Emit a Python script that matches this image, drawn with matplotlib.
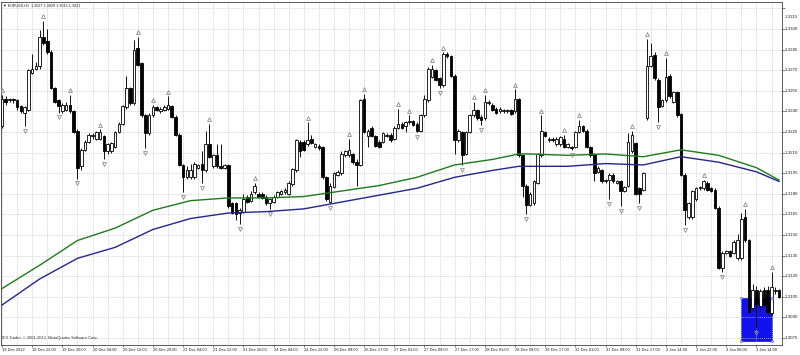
import numpy as np
import matplotlib
matplotlib.use("Agg")
import matplotlib.pyplot as plt
import matplotlib.transforms as mtransforms
from matplotlib.patches import Rectangle

# ---------------- data (EURUSD H1) ----------------
opens = [1.3229,1.3249,1.3248,1.3249,1.3248,1.3244,1.3239,1.3241,1.3268,1.3271,
         1.3273,1.3294,1.3291,1.3283,1.3257,1.3248,1.3240,1.3241,1.3245,1.3240,
         1.3226,1.3200,1.3212,1.3218,1.3222,1.3220,1.3220,1.3222,1.3211,1.3211,
         1.3214,1.3225,1.3231,1.3243,1.3257,1.3246,1.3286,1.3275,1.3237,1.3224,
         1.3237,1.3243,1.3240,1.3241,1.3242,1.3244,1.3236,1.3223,1.3201,1.3192,
         1.3192,1.3192,1.3199,1.3202,1.3197,1.3216,1.3200,1.3208,1.3200,1.3199,
         1.3201,1.3173,1.3173,1.3166,1.3167,1.3178,1.3175,1.3181,1.3180,1.3180,
         1.3178,1.3173,1.3174,1.3178,1.3180,1.3181,1.3180,1.3187,1.3197,1.3218,
         1.3218,1.3216,1.3220,1.3214,1.3215,1.3214,1.3192,1.3174,1.3185,1.3194,
         1.3195,1.3208,1.3208,1.3209,1.3203,1.3201,1.3249,1.3222,1.3228,1.3222,
         1.3218,1.3218,1.3222,1.3223,1.3220,1.3228,1.3231,1.3229,1.3232,1.3233,
         1.3231,1.3226,1.3237,1.3248,1.3265,1.3270,1.3264,1.3259,1.3282,1.3280,
         1.3266,1.3219,1.3225,1.3209,1.3225,1.3237,1.3241,1.3236,1.3235,1.3246,
         1.3245,1.3242,1.3240,1.3240,1.3240,1.3241,1.3240,1.3249,1.3208,1.3186,
         1.3172,1.3173,1.3188,1.3208,1.3225,1.3219,1.3220,1.3216,1.3216,1.3220,
         1.3214,1.3214,1.3214,1.3225,1.3229,1.3226,1.3214,1.3209,1.3196,1.3197,
         1.3189,1.3190,1.3194,1.3188,1.3189,1.3182,1.3186,1.3211,1.3217,1.3184,
         1.3183,1.3235,1.3273,1.3281,1.3263,1.3244,1.3248,1.3266,1.3247,1.3254,
         1.3238,1.3194,1.3163,1.3163,1.3176,1.3184,1.3184,1.3188,1.3184,1.3183,
         1.3170,1.3126,1.3137,1.3138,1.3137,1.3133,1.3133,1.3163,1.3146,1.3097,
         1.3110,1.3098,1.3110,1.3110,1.3093,1.3109,1.3110]
highs = [1.3252,1.3251,1.3250,1.3250,1.3249,1.3245,1.3244,1.3271,1.3282,1.3276,
         1.3299,1.3306,1.3300,1.3285,1.3258,1.3249,1.3246,1.3247,1.3252,1.3241,
         1.3227,1.3213,1.3219,1.3224,1.3224,1.3226,1.3227,1.3223,1.3217,1.3218,
         1.3226,1.3232,1.3245,1.3266,1.3258,1.3292,1.3294,1.3276,1.3238,1.3239,
         1.3245,1.3244,1.3243,1.3245,1.3251,1.3245,1.3237,1.3224,1.3202,1.3200,
         1.3202,1.3203,1.3202,1.3211,1.3226,1.3231,1.3209,1.3216,1.3216,1.3202,
         1.3202,1.3174,1.3174,1.3170,1.3180,1.3179,1.3182,1.3188,1.3181,1.3181,
         1.3179,1.3177,1.3179,1.3182,1.3183,1.3184,1.3189,1.3199,1.3220,1.3219,
         1.3219,1.3232,1.3223,1.3217,1.3216,1.3215,1.3193,1.3188,1.3196,1.3197,
         1.3211,1.3212,1.3220,1.3210,1.3205,1.3249,1.3253,1.3227,1.3229,1.3223,
         1.3219,1.3225,1.3224,1.3224,1.3229,1.3242,1.3232,1.3233,1.3237,1.3234,
         1.3232,1.3238,1.3252,1.3272,1.3274,1.3271,1.3265,1.3283,1.3283,1.3281,
         1.3267,1.3227,1.3226,1.3226,1.3238,1.3247,1.3242,1.3237,1.3252,1.3248,
         1.3246,1.3243,1.3243,1.3242,1.3242,1.3242,1.3256,1.3250,1.3209,1.3187,
         1.3181,1.3190,1.3210,1.3237,1.3226,1.3221,1.3221,1.3221,1.3222,1.3223,
         1.3217,1.3215,1.3226,1.3234,1.3230,1.3227,1.3215,1.3210,1.3200,1.3198,
         1.3191,1.3195,1.3195,1.3190,1.3190,1.3186,1.3224,1.3226,1.3218,1.3185,
         1.3196,1.3293,1.3290,1.3283,1.3264,1.3249,1.3279,1.3267,1.3255,1.3255,
         1.3239,1.3195,1.3174,1.3183,1.3185,1.3186,1.3190,1.3189,1.3185,1.3184,
         1.3171,1.3138,1.3139,1.3139,1.3146,1.3151,1.3166,1.3169,1.3147,1.3114,
         1.3113,1.3111,1.3112,1.3113,1.3123,1.3112,1.3111]
lows = [1.3228,1.3245,1.3247,1.3246,1.3241,1.3239,1.3229,1.3240,1.3267,1.3270,
        1.3271,1.3288,1.3282,1.3256,1.3246,1.3239,1.3239,1.3240,1.3239,1.3224,
        1.3191,1.3197,1.3211,1.3217,1.3220,1.3219,1.3219,1.3205,1.3209,1.3210,
        1.3213,1.3224,1.3230,1.3242,1.3245,1.3245,1.3273,1.3236,1.3213,1.3223,
        1.3236,1.3240,1.3239,1.3240,1.3241,1.3235,1.3222,1.3200,1.3181,1.3191,
        1.3191,1.3191,1.3198,1.3188,1.3196,1.3206,1.3199,1.3199,1.3198,1.3198,
        1.3170,1.3165,1.3161,1.3158,1.3166,1.3173,1.3174,1.3180,1.3177,1.3176,
        1.3172,1.3169,1.3173,1.3177,1.3179,1.3180,1.3179,1.3186,1.3196,1.3207,
        1.3211,1.3215,1.3216,1.3213,1.3212,1.3191,1.3175,1.3173,1.3184,1.3193,
        1.3194,1.3207,1.3207,1.3202,1.3186,1.3200,1.3224,1.3214,1.3221,1.3214,
        1.3213,1.3217,1.3221,1.3218,1.3219,1.3227,1.3227,1.3225,1.3231,1.3229,
        1.3225,1.3225,1.3236,1.3247,1.3264,1.3262,1.3257,1.3258,1.3279,1.3265,
        1.3209,1.3218,1.3201,1.3208,1.3224,1.3236,1.3234,1.3230,1.3234,1.3245,
        1.3240,1.3238,1.3239,1.3239,1.3239,1.3237,1.3239,1.3207,1.3178,1.3165,
        1.3171,1.3172,1.3187,1.3207,1.3221,1.3218,1.3218,1.3215,1.3215,1.3213,
        1.3213,1.3212,1.3213,1.3224,1.3225,1.3213,1.3207,1.3189,1.3195,1.3188,
        1.3188,1.3176,1.3188,1.3187,1.3171,1.3181,1.3185,1.3210,1.3179,1.3173,
        1.3182,1.3234,1.3272,1.3263,1.3232,1.3243,1.3247,1.3250,1.3246,1.3236,
        1.3193,1.3157,1.3162,1.3162,1.3175,1.3183,1.3183,1.3182,1.3181,1.3169,
        1.3125,1.3123,1.3136,1.3134,1.3136,1.3132,1.3132,1.3145,1.3093,1.3095,
        1.3082,1.3095,1.3098,1.3092,1.3092,1.3107,1.3104]
closes = [1.3249,1.3247,1.3249,1.3248,1.3243,1.3240,1.3243,1.3270,1.3271,1.3273,
          1.3294,1.3290,1.3283,1.3257,1.3247,1.3244,1.3245,1.3245,1.3240,1.3225,
          1.3199,1.3212,1.3218,1.3223,1.3223,1.3225,1.3225,1.3211,1.3216,1.3217,
          1.3225,1.3231,1.3244,1.3257,1.3246,1.3285,1.3274,1.3237,1.3224,1.3237,
          1.3243,1.3241,1.3242,1.3243,1.3245,1.3236,1.3223,1.3201,1.3192,1.3197,
          1.3197,1.3202,1.3201,1.3197,1.3216,1.3207,1.3208,1.3200,1.3199,1.3201,
          1.3171,1.3166,1.3165,1.3168,1.3176,1.3174,1.3180,1.3186,1.3178,1.3177,
          1.3173,1.3176,1.3178,1.3181,1.3182,1.3183,1.3188,1.3198,1.3219,1.3211,
          1.3212,1.3219,1.3217,1.3216,1.3213,1.3192,1.3176,1.3186,1.3195,1.3196,
          1.3209,1.3211,1.3212,1.3203,1.3201,1.3248,1.3225,1.3226,1.3222,1.3215,
          1.3214,1.3224,1.3223,1.3219,1.3228,1.3231,1.3228,1.3232,1.3233,1.3230,
          1.3226,1.3237,1.3249,1.3271,1.3271,1.3263,1.3259,1.3282,1.3280,1.3266,
          1.3219,1.3226,1.3208,1.3225,1.3237,1.3241,1.3235,1.3234,1.3247,1.3247,
          1.3241,1.3239,1.3242,1.3241,1.3241,1.3238,1.3249,1.3208,1.3186,1.3172,
          1.3180,1.3189,1.3209,1.3226,1.3222,1.3220,1.3219,1.3220,1.3221,1.3214,
          1.3216,1.3213,1.3225,1.3229,1.3226,1.3214,1.3208,1.3195,1.3199,1.3189,
          1.3190,1.3194,1.3189,1.3189,1.3182,1.3185,1.3218,1.3223,1.3180,1.3180,
          1.3195,1.3273,1.3280,1.3264,1.3243,1.3248,1.3265,1.3251,1.3254,1.3237,
          1.3194,1.3168,1.3173,1.3182,1.3184,1.3185,1.3189,1.3183,1.3182,1.3170,
          1.3126,1.3137,1.3138,1.3135,1.3145,1.3146,1.3162,1.3146,1.3094,1.3110,
          1.3100,1.3109,1.3099,1.3094,1.3112,1.3110,1.3105]

up_fractals = [0, 11, 18, 26, 36, 40, 44, 55, 67, 81, 92, 96, 105, 108, 114, 117,
               125, 128, 136, 143, 149, 153, 167, 171, 176, 186, 197, 204]
down_fractals = [6, 15, 20, 27, 38, 48, 53, 63, 71, 87, 110, 116, 122, 127, 139,
                 151, 161, 164, 169, 174, 181, 191, 200]

ma_bars = [0, 10, 20, 30, 40, 50, 60, 70, 80, 90, 100, 110, 120, 130, 137, 140,
           150, 160, 170, 180, 190, 200, 206]
ma_green = [1.3111, 1.3128, 1.3146, 1.3155, 1.3168, 1.3175, 1.3177, 1.3177, 1.3178,
            1.3182, 1.3186, 1.3192, 1.3201, 1.3205, 1.3209, 1.3209, 1.3208, 1.3209,
            1.3207, 1.3212, 1.3208, 1.3199, 1.3190]
ma_blue = [1.3099, 1.3118, 1.3133, 1.3141, 1.3154, 1.3162, 1.3166, 1.3167, 1.3169,
           1.3174, 1.3179, 1.3184, 1.3192, 1.3197, 1.3200, 1.3200, 1.3200, 1.3202,
           1.3201, 1.3207, 1.3203, 1.3196, 1.3189]

date_labels = ["19 Dec 2012", "19 Dec 12:00", "19 Dec 20:00", "20 Dec 04:00",
               "20 Dec 12:00", "20 Dec 20:00", "21 Dec 04:00", "21 Dec 12:00",
               "21 Dec 20:00", "24 Dec 04:00", "24 Dec 12:00", "26 Dec 09:00",
               "26 Dec 17:00", "27 Dec 01:00", "27 Dec 09:00", "27 Dec 17:00",
               "28 Dec 01:00", "28 Dec 09:00", "28 Dec 17:00", "31 Dec 01:00",
               "31 Dec 09:00", "31 Dec 17:00", "2 Jan 14:00", "2 Jan 22:00",
               "3 Jan 06:00", "3 Jan 14:00"]
label_step = 8
price_labels = ["1.3315", "1.3300", "1.3285", "1.3270", "1.3255", "1.3240",
                "1.3225", "1.3210", "1.3195", "1.3180", "1.3165", "1.3150",
                "1.3135", "1.3120", "1.3105", "1.3090", "1.3075"]

rect_start_bar, rect_end_bar = 195.9, 204.1
rect_low, rect_high = 1.3073, 1.3104

header_text = "\u25bc EURUSD,H1  1.3027 1.3029 1.3015 1.3021"
copyright_text = "IFX Trader, \u00a9 2001-2013, MetaQuotes Software Corp."

# ---------------- drawing ----------------
plt.rcParams['font.family'] = ['Liberation Sans', 'DejaVu Sans']

fig = plt.figure(figsize=(8, 3.55), dpi=100)
fig.patch.set_facecolor('white')
ax = fig.add_axes([1 / 800, 10 / 355, 780.5 / 800, 343.5 / 355])
ax.set_facecolor('white')

o = np.array(opens); h = np.array(highs); l = np.array(lows); c = np.array(closes)
n = len(o)
x = np.arange(n)

ax.set_xlim(-0.265, 206.65)
ax.set_ylim(1.30699, 1.33200)

price_values = [float(s) for s in price_labels]

grid_kw = dict(color='#c6c6c6', lw=0.5, ls=(0, (1.5, 1.5)), zorder=1)
for p in price_values:
    ax.axhline(p, **grid_kw)
for b in range(0, n, 4):
    ax.axvline(b, **grid_kw)

# rectangle object
ax.add_patch(Rectangle((rect_start_bar, rect_low), rect_end_bar - rect_start_bar,
                       rect_high - rect_low, facecolor='#1212ee', edgecolor='#1212ee',
                       lw=0.5, zorder=0.8))
ax.plot([rect_start_bar, rect_end_bar, rect_start_bar, rect_end_bar],
        [rect_low, rect_low, rect_high, rect_high], ls='none', marker='o', ms=1.6,
        mfc='#d0d0ff', mec='#4040ff', mew=0.4, zorder=6)

# candles
top = np.maximum(o, c)
bot = np.minimum(o, c)
ax.vlines(x, np.minimum(l, bot), np.maximum(h, top), color='black', lw=0.65, zorder=3)
bull = c >= o
height = np.maximum(top - bot, 0.000005)
ax.bar(x[bull], height[bull], bottom=bot[bull], width=0.7, facecolor='white',
       edgecolor='black', linewidth=0.6, zorder=3.2)
ax.bar(x[~bull], height[~bull], bottom=bot[~bull], width=0.7, facecolor='black',
       edgecolor='black', linewidth=0.6, zorder=3.2)

# moving averages
ax.plot(ma_bars, ma_green, color='#1f7a1f', lw=1.0, zorder=4)
ax.plot(ma_bars, ma_blue, color='#25258c', lw=1.0, zorder=4)

# fractals
up_tr = mtransforms.offset_copy(ax.transData, fig=fig, y=3.4, units='points')
dn_tr = mtransforms.offset_copy(ax.transData, fig=fig, y=-3.4, units='points')
ax.plot(up_fractals, h[up_fractals], ls='none', marker='^', ms=2.8, mfc='none',
        mec='#8c8c8c', mew=0.6, transform=up_tr, zorder=5)
ax.plot(down_fractals, l[down_fractals], ls='none', marker='v', ms=2.8, mfc='none',
        mec='#8c8c8c', mew=0.6, transform=dn_tr, zorder=5)

# x axis labels
ax.set_xticks(range(0, n, label_step))
ax.set_xticklabels(date_labels, fontsize=2.9, ha='left')
ax.tick_params(axis='x', length=1.5, width=0.4, pad=0.7, direction='out',
               colors='#202020')

# y axis (right)
ax.yaxis.tick_right()
ax.set_yticks(price_values)
ax.tick_params(axis='y', length=2, width=0.4, labelright=False, labelleft=False,
               colors='#202020')
ytrans = mtransforms.blended_transform_factory(ax.transAxes, ax.transData)
for p, s in zip(price_values, price_labels):
    dy = -6 if p == max(price_values) else 0
    tr = ytrans + mtransforms.ScaledTranslation(2.5 / 72, dy / 72, fig.dpi_scale_trans)
    ax.text(1.0, p, s, transform=tr, fontsize=3.2, va='center', ha='left',
            clip_on=False, color='#202020')

for sp in ax.spines.values():
    sp.set_color('#404040')
    sp.set_linewidth(0.6)

ax.text(0.0022, 0.989, header_text, transform=ax.transAxes, fontsize=2.7,
        va='center', ha='left', color='#202020', zorder=7)
ax.text(0.0013, 0.0204, copyright_text, transform=ax.transAxes, fontsize=2.9,
        va='center', ha='left', color='#303030', zorder=7)

fig.savefig('out.png', dpi=100, facecolor='white')
